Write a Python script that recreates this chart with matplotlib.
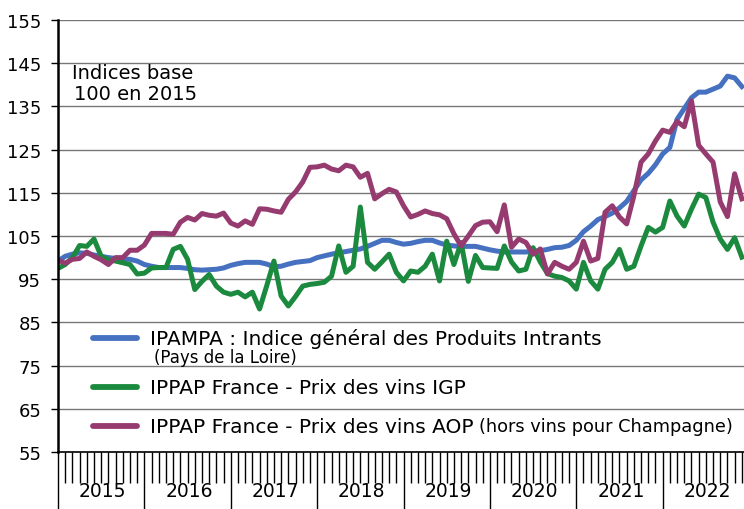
import numpy as np
import matplotlib
matplotlib.use("Agg")
import matplotlib.pyplot as plt
import matplotlib.transforms as mtransforms

plt.rcParams['font.family'] = ['DejaVu Sans']

# monthly index values, Jan 2015 .. Dec 2022
years = ["2015", "2016", "2017", "2018", "2019", "2020", "2021", "2022"]

ipampa = [99.2, 100.3, 100.8, 101.1, 101.0, 100.6, 100.3, 100.0, 99.8, 99.7, 99.6, 99.2,
          98.4, 98.0, 97.7, 97.7, 97.7, 97.7, 97.5, 97.2, 97.1, 97.2, 97.3, 97.6,
          98.2, 98.6, 98.9, 98.9, 98.9, 98.5, 97.9, 98.0, 98.5, 98.9, 99.1, 99.3,
          100.0, 100.4, 100.8, 101.1, 101.4, 101.7, 102.0, 102.6, 103.3, 104.0, 104.0, 103.5,
          103.1, 103.3, 103.7, 104.0, 104.0, 103.4, 102.9, 102.7, 102.6, 102.6, 102.6, 102.2,
          101.8, 101.5, 101.3, 101.3, 101.3, 101.3, 101.4, 101.6, 101.9, 102.3, 102.4, 102.8,
          104.0, 106.0, 107.3, 108.8, 109.5, 110.3, 111.5, 113.0, 115.5, 118.0, 119.5, 121.5,
          124.0, 125.5, 132.0, 134.5, 137.0, 138.3, 138.3, 139.0, 139.7, 142.0, 141.6, 139.6]

vins_igp = [97.5, 98.4, 100.0, 102.8, 102.6, 104.3, 100.3, 99.5, 99.2, 98.8, 98.4, 96.2,
            96.4, 97.6, 97.7, 97.7, 101.9, 102.6, 99.6, 92.6, 94.5, 96.1, 93.4, 92.0,
            91.5, 92.0, 90.9, 92.0, 88.1, 93.5, 99.2, 91.1, 88.8, 91.0, 93.4, 93.8,
            94.0, 94.3, 95.7, 102.7, 96.6, 98.0, 111.7, 98.9, 97.3, 99.0, 100.8, 96.6,
            94.6, 96.9, 96.6, 98.0, 100.8, 94.6, 103.8, 98.4, 103.5, 94.5, 100.5, 97.7,
            97.6, 97.5, 102.7, 99.0, 96.9, 97.3, 102.3, 99.0, 96.3, 95.7, 95.4, 94.6,
            92.7, 98.9, 94.6, 92.7, 97.3, 98.9, 101.9, 97.3, 98.0, 102.7, 107.0, 105.9,
            107.0, 113.1, 109.6, 107.3, 111.2, 114.7, 113.9, 108.2, 104.3, 101.9, 104.6, 100.1]

vins_aop = [99.4, 98.7, 99.6, 99.8, 101.3, 100.3, 99.5, 98.4, 100.0, 100.0, 101.7, 101.7,
            102.9, 105.6, 105.6, 105.6, 105.4, 108.2, 109.3, 108.7, 110.2, 109.8, 109.6, 110.3,
            108.0, 107.3, 108.5, 107.7, 111.3, 111.2, 110.8, 110.5, 113.5, 115.2, 117.5, 120.9,
            121.0, 121.4, 120.5, 120.1, 121.4, 121.0, 118.6, 119.5, 113.6, 114.8, 115.8, 115.2,
            112.0, 109.4, 110.0, 110.8, 110.2, 109.9, 109.0, 105.5, 102.7, 105.0, 107.4, 108.2,
            108.3, 106.0, 112.2, 102.4, 104.3, 103.5, 100.8, 102.0, 96.2, 98.9, 98.0, 97.3,
            98.9, 103.8, 99.2, 99.8, 110.5, 112.0, 109.4, 107.8, 114.3, 122.1, 124.0, 127.0,
            129.5, 129.0, 131.5, 130.3, 136.3, 126.0, 124.0, 122.1, 112.9, 109.5, 119.4, 113.6]

blue = "#4670C0"
green = "#1B8A3E"
purple = "#963B70"

months = np.arange(len(ipampa))

fig = plt.figure(figsize=(7.44, 5.10), dpi=100)
ax = fig.add_axes([58 / 744, 57 / 510, 686 / 744, 432 / 510])

ax.set_ylim(55, 155)
ax.set_xlim(0, 95.3)
ax.set_yticks(np.arange(55, 156, 10))
ax.tick_params(axis='y', labelsize=13, length=5, width=1, pad=7)
ax.yaxis.grid(True, color="#777777", linewidth=1)
ax.set_axisbelow(True)

for s in ["top", "right"]:
    ax.spines[s].set_visible(False)
ax.spines["left"].set_linewidth(1.8)
ax.spines["bottom"].set_linewidth(1.2)

# month ticks and year separators
ax.set_xticks(np.arange(0, 96, 12))
ax.set_xticks(np.arange(0, 96, 1), minor=True)
ax.tick_params(axis='x', which='major', length=41, width=1, labelbottom=False)
ax.tick_params(axis='x', which='minor', length=22, width=1)

lw = 3.6
ax.plot(months, ipampa, color=blue, lw=lw, solid_joinstyle='round')
ax.plot(months, vins_igp, color=green, lw=lw, solid_joinstyle='round')
ax.plot(months, vins_aop, color=purple, lw=lw, solid_joinstyle='round')

# year labels
trans = mtransforms.blended_transform_factory(ax.transData, fig.transFigure)
for i, y in enumerate(years):
    ax.text(12 * i + 6.2, 0.025, y, transform=trans, ha='center', va='baseline', fontsize=13.5)

# base note
ax.text(1.9, 141.6, "Indices base", fontsize=14, va='baseline')
ax.text(2.2, 136.6, "100 en 2015", fontsize=14, va='baseline')

# legend drawn by hand
entries = [(81.4, blue, "IPAMPA : Indice général des Produits Intrants"),
           (70.0, green, "IPPAP France - Prix des vins IGP"),
           (61.0, purple, "IPPAP France - Prix des vins AOP")]
for yv, c, lab in entries:
    ax.plot([4.9, 11.0], [yv, yv], color=c, lw=4.2, solid_capstyle='round')
    t = ax.text(12.8, yv, lab, fontsize=14.5, va='center')
ax.text(13.4, 77.0, "(Pays de la Loire)", fontsize=12, va='center')
ax.annotate("(hors vins pour Champagne)", xy=(1, 0.5), xycoords=t,
            xytext=(4, 0), textcoords='offset points', fontsize=12.8, va='center')

fig.savefig("out.png", dpi=100)
